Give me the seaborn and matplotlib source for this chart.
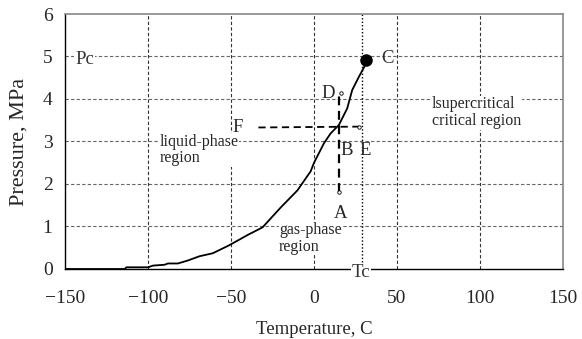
import matplotlib
matplotlib.use("Agg")
import matplotlib.pyplot as plt
import seaborn as sns
import pandas as pd

# Saturation curve
temp = [-150, -114, -113, -100, -97, -90, -88, -82, -76, -69, -61, -51, -40, -31,
        -20, -10, -2, 0, 6, 10, 15, 20, 23, 27, 32]
pres = [0, 0, 0.04, 0.04, 0.08, 0.1, 0.13, 0.13, 0.2, 0.3, 0.37, 0.56, 0.8, 0.98,
        1.45, 1.85, 2.3, 2.5, 2.96, 3.19, 3.39, 3.78, 4.21, 4.52, 4.88]

crit_t, crit_p = 31.5, 4.92          # point C
tc_line = 29                          # dotted Tc line
vert_t, vert_p = [15, 15], [1.82, 4.13]   # A -> D
horz_t, horz_p = [-33.5, 27], [3.33, 3.35]  # F -> E

xticks = [-150, -100, -50, 0, 50, 100, 150]
yticks = [0, 1, 2, 3, 4, 5, 6]

sns.set_style("white")
plt.rcParams['font.family'] = ['Liberation Serif', 'DejaVu Serif']

fig = plt.figure(figsize=(5.82, 3.39), dpi=100)
ax = fig.add_axes([0.1117, 0.2065, 0.8557, 0.7522])

df = pd.DataFrame({"T": temp, "P": pres})
sns.lineplot(data=df, x="T", y="P", ax=ax, color="black", lw=1.3, sort=False, zorder=5)

ax.set_xlim(-150, 150)
ax.set_ylim(0, 6)
ax.set_xticks(xticks)
ax.set_yticks(yticks)
ax.set_xticklabels([("\u2212%d" % abs(v)) if v < 0 else str(v) for v in xticks])

for v in [-100, -50, 0, 50, 100]:
    ax.axvline(v, color="#333333", ls=(0, (3, 2)), lw=0.8, zorder=1)
for v in [1, 2, 3, 4, 5]:
    ax.axhline(v, color="#666666", ls=(0, (3, 2)), lw=0.8, zorder=1)

ax.axvline(tc_line, color="black", ls=(0, (1, 1.5)), lw=1.0, zorder=2)

ax.plot(vert_t, vert_p, color="black", ls=(0, (4, 2.5)), lw=1.6, zorder=4)
ax.plot(horz_t, horz_p, color="black", ls=(0, (4, 2.5)), lw=1.3, zorder=4)
ax.plot([vert_t[0]], [vert_p[0]], marker="o", ms=2.5, mfc="white", mec="black", mew=0.6, zorder=6)
ax.plot([vert_t[1]+1.5], [vert_p[1]], marker="o", ms=2.5, mfc="white", mec="black", mew=0.6, zorder=6)
ax.plot([horz_t[1]], [horz_p[1]], marker="o", ms=2.5, mfc="white", mec="black", mew=0.6, zorder=6)

ax.plot([crit_t], [crit_p], marker="o", ms=8, color="black", zorder=7)

bb = dict(facecolor="white", edgecolor="none", pad=0.5)
lf = 13.5
ax.text(-144, 4.93, "Pc", fontsize=lf, color="#333333", va="center", ha="left", bbox=bb, zorder=3)
ax.text(-46, 3.33, "F", fontsize=lf, va="center", ha="center", zorder=3)
ax.text(8.5, 4.14, "D", fontsize=lf, va="center", ha="center", zorder=3)
ax.text(44.5, 4.96, "C", fontsize=lf, color="#333333", va="center", ha="center", zorder=3)
ax.text(19.5, 2.78, "B", fontsize=lf, va="center", ha="center", zorder=3)
ax.text(31, 2.78, "E", fontsize=lf, va="center", ha="center", zorder=3)
ax.text(16, 1.3, "A", fontsize=lf, va="center", ha="center", zorder=3)
ax.text(28.5, -0.08, "Tc", fontsize=lf, color="#333333", va="center", ha="center", bbox=bb, zorder=8, clip_on=False)
rf = 11.5
ax.text(-93, 2.8, "liquid-phase\nregion", fontsize=rf, va="center", ha="left", linespacing=1.05, bbox=bb, zorder=3)
ax.text(-21, 0.72, "gas-phase\nregion", fontsize=rf, va="center", ha="left", linespacing=1.05, bbox=bb, zorder=3)
ax.text(71, 3.68, "lsupercritical\ncritical region", fontsize=rf, va="center", ha="left", linespacing=1.05, bbox=bb, zorder=3)

ax.set_xlabel("Temperature, C", fontsize=13.5, labelpad=10)
ax.set_ylabel("Pressure, MPa", fontsize=16, labelpad=10)
ax.tick_params(axis="both", labelsize=14, direction="in", length=4, color="black")
ax.tick_params(axis="x", pad=15)
ax.tick_params(axis="y", pad=9)

for s in ["left", "bottom"]:
    ax.spines[s].set_color("black")
    ax.spines[s].set_linewidth(1.0)
for s in ["top", "right"]:
    ax.spines[s].set_color("#888888")
    ax.spines[s].set_linewidth(1.2)

fig.savefig("out.png", dpi=100)
